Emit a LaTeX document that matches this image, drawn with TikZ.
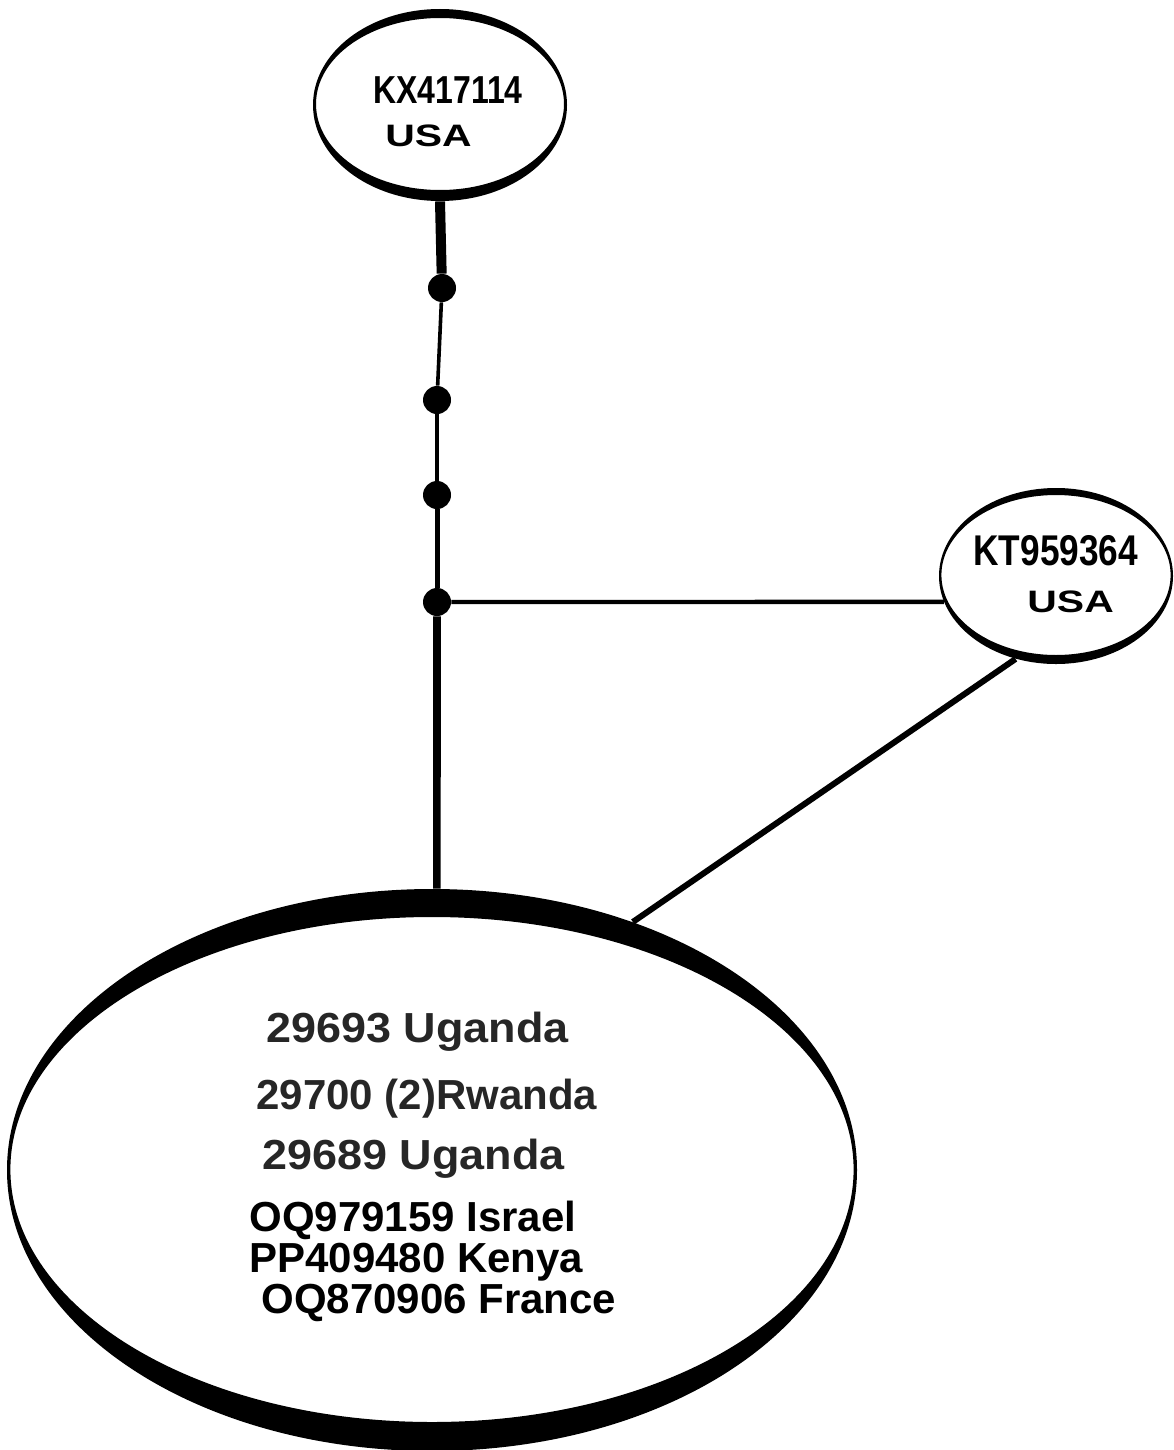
\documentclass[tikz,border=0pt]{standalone}
\usepackage{fontspec}
\setmainfont{Liberation Sans}
\newfontfamily\narrowfont[FakeStretch=0.82]{Liberation Sans}
\newfontfamily\widefont[FakeStretch=1.32]{Liberation Sans}
\newfontfamily\broadfont[FakeStretch=1.07]{Liberation Sans}
\usetikzlibrary{shapes.geometric}

\begin{document}
\begin{tikzpicture}[x=0.5pt, y=-0.5pt,
    hap/.style={ellipse, draw=none, inner sep=0pt},
    mv/.style={circle, fill=black, inner sep=0pt, minimum size=14pt},
    link/.style={line width=#1, black},
    acc/.style={anchor=base west, inner sep=0pt, font=\narrowfont\bfseries\fontsize{#1}{#1}\selectfont},
    ctry/.style={anchor=base west, inner sep=0pt, font=\widefont\bfseries\fontsize{15.5}{16}\selectfont},
    smp/.style={anchor=base west, inner sep=0pt, font=\bfseries\fontsize{21}{25}\selectfont},
    smpw/.style={anchor=base west, inner sep=0pt, text=black!85, font=\broadfont\bfseries\fontsize{21}{25}\selectfont}]

    \useasboundingbox[fill=white] (0,0) rectangle (1173,1450);

    % haplotype nodes
    \node[hap, minimum width=127pt, minimum height=96pt]  (hapKX)   at (440,105)  {};
    \node[hap, minimum width=117pt, minimum height=88pt]  (hapKT)   at (1056,576) {};
    \node[hap, minimum width=425pt, minimum height=281pt] (hapMain) at (432,1170) {};

    % outlines, thick at top and bottom
    \fill[even odd rule] (440,105) ellipse [x radius=63.5pt, y radius=48pt]
                         (440,104) ellipse [x radius=62pt, y radius=43pt];
    \fill[even odd rule] (1056,576) ellipse [x radius=58.5pt, y radius=44pt]
                         (1056,575) ellipse [x radius=57.3pt, y radius=40pt];
    \fill[even odd rule] (432,1170) ellipse [x radius=212.5pt, y radius=140.5pt]
                         (432,1169.5) ellipse [x radius=210.8pt, y radius=126.25pt];

    % mutation steps
    \node[mv] (m1) at (442,288) {};
    \node[mv] (m2) at (437,400) {};
    \node[mv] (m3) at (437,495) {};
    \node[mv] (m4) at (437,602) {};

    \draw[link=5pt] (hapKX.south) -- (m1);
    \draw[link=1.8pt] (m1) -- (m2);
    \draw[link=2.2pt] (m2) -- (m3);
    \draw[link=2.5pt] (m3) -- (m4);
    \draw[link=3.8pt] (m4) -- (hapMain.89);
    \draw[link=2.2pt] (m4) -- (hapKT.193);
    \draw[link=3pt] (hapKT.244) -- (hapMain.51);

    % labels
    \node[acc=19.5] (kxId)  at (373,104)  {KX417114};
    \node[ctry]     (kxCty) at (385,147)  {USA};
    \node[acc=21.5] (ktId)  at (973,565)  {KT959364};
    \node[ctry]     (ktCty) at (1027,612) {USA};

    \node[smpw]         (s1) at (266,1042) {29693 Uganda};
    \node[smp, text=black!85] (s2) at (256,1109) {29700 (2)Rwanda};
    \node[smpw]         (s3) at (262,1169) {29689 Uganda};
    \node[smp]          (s4) at (249,1231) {OQ979159 Israel};
    \node[smp]          (s5) at (249,1272) {PP409480 Kenya};
    \node[smp]          (s6) at (261,1313) {OQ870906 France};
  \end{tikzpicture}
\end{document}
